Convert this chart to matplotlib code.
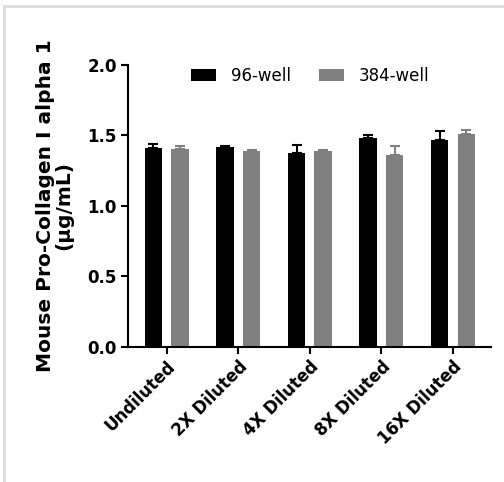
import numpy as np
import matplotlib.pyplot as plt
from matplotlib.lines import Line2D

categories = ['Undiluted', '2X Diluted', '4X Diluted', '8X Diluted', '16X Diluted']
well96 = [1.41, 1.415, 1.375, 1.48, 1.47]
well96_err = [0.03, 0.008, 0.06, 0.025, 0.065]
well384 = [1.405, 1.39, 1.39, 1.36, 1.51]
well384_err = [0.02, 0.005, 0.005, 0.065, 0.03]

plt.rcParams['font.family'] = 'DejaVu Sans'

fig = plt.figure(figsize=(5.04, 4.82), dpi=100)
ax = fig.add_axes([0.254, 0.2807, 0.720, 0.5844])

x = np.arange(len(categories))
off = 0.186
w = 0.245
ax.bar(x - off, well96, w, color='black', label='96-well')
ax.bar(x + off, well384, w, color='#808080', label='384-well')
# upward-only error bars, GraphPad style
ax.errorbar(x - off, well96, yerr=[np.zeros(5), well96_err], fmt='none',
            ecolor='black', elinewidth=1.5, capsize=3.5, capthick=1.5)
ax.errorbar(x + off, well384, yerr=[np.zeros(5), well384_err], fmt='none',
            ecolor='#808080', elinewidth=1.5, capsize=3.5, capthick=1.5)

ax.set_ylim(0, 2.0)
ax.set_xlim(-0.54, 4.53)
ax.set_yticks([0, 0.5, 1.0, 1.5, 2.0])
ax.set_yticklabels(['0.0', '0.5', '1.0', '1.5', '2.0'], fontsize=12, fontweight='bold')
ax.set_xticks(x)
ax.set_xticklabels(categories, rotation=45, ha='right', rotation_mode='anchor',
                   fontsize=12, fontweight='bold')
for s in ['top', 'right']:
    ax.spines[s].set_visible(False)
for s in ['left', 'bottom']:
    ax.spines[s].set_linewidth(1.5)
ax.tick_params(width=1.5, length=5, pad=3)
ax.set_ylabel('Mouse Pro-Collagen I alpha 1\n(µg/mL)', fontsize=14.5,
              fontweight='bold', labelpad=10, linespacing=1.0)

ax.legend(loc='center', bbox_to_anchor=(0.503, 0.961), ncol=2, frameon=False,
          fontsize=12, handlelength=1.5, handleheight=0.7, columnspacing=1.65,
          handletextpad=0.9)

# light frame lines (top and left) like the source image
fig.add_artist(Line2D([4 / 504, 1], [1 - 6 / 482, 1 - 6 / 482], color='#dcdcdc', lw=2))
fig.add_artist(Line2D([4 / 504, 4 / 504], [0, 1 - 6 / 482], color='#dcdcdc', lw=2))

fig.savefig('out.png', dpi=100)
